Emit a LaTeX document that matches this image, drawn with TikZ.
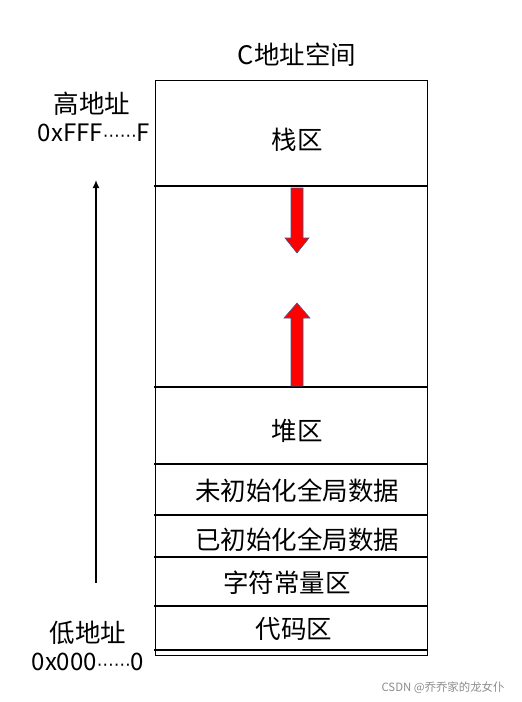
\documentclass[tikz,border=0pt]{standalone}
\usepackage{fontspec}
\setmainfont{Noto Sans CJK SC}
\newfontfamily\dotsfont{DejaVu Sans}
\usetikzlibrary{arrows.meta, calc}
\definecolor{arrowedge}{HTML}{41598B}
\newcommand{\middots}{{\dotsfont\fontsize{17}{20}\selectfont ⋯⋯}}

\begin{document}
\begin{tikzpicture}[x=1pt,y=-1pt,line cap=rect,
  lbl/.style={font=\fontsize{25.5}{28}\selectfont, inner sep=0pt},
  addr/.style={font=\fontsize{24}{28}\selectfont, inner sep=0pt},
  sep/.style={line width=1.4pt},
  bigsep/.style={line width=2pt},
  blockarrow/.style={fill=red, draw=arrowedge, line width=0.6pt, line join=miter}]
  \useasboundingbox (0,0) rectangle (522,702);

  % --- Spazio: rettangolo esterno ---
  \draw[line width=1pt] (155,80) rectangle (427,655);
  \node[lbl] (title) at (297,55) {C地址空间};

  % --- Separatori ---
  \draw[bigsep] (155,186) -- (427,186);
  \draw[sep] (155,387) -- (427,387);
  \draw[sep] (155,464) -- (427,464);
  \draw[sep] (155,515) -- (427,515);
  \draw[sep] (155,557) -- (427,557);
  \draw[sep] (155,606) -- (427,606);
  \draw[bigsep] (155,650) -- (427,650);

  % --- Etichette delle zone ---
  \node[lbl] (stack) at (297,140) {栈区};
  \node[lbl] (heap) at (297,431) {堆区};
  \node[lbl] (bss) at (297,491) {未初始化全局数据};
  \node[lbl] (data) at (297,540) {已初始化全局数据};
  \node[lbl] (rodata) at (287,583) {字符常量区};
  \node[lbl] (text) at (294,629) {代码区};

  % --- Frecce rosse: crescita stack e heap ---
  \draw[blockarrow] (291,188) -- (303,188) -- (303,238) -- (309,238)
    -- (297,253) -- (285,238) -- (291,238) -- cycle;
  \draw[blockarrow] (291,386) -- (303,386) -- (303,318) -- (310,318)
    -- (297,303) -- (284,318) -- (291,318) -- cycle;

  % --- Indirizzi a sinistra ---
  \node[lbl] (high) at (92,104) {高地址};
  \node[addr] (highval) at (94,133) {0xFFF\middots F};
  \node[lbl] (low) at (88,633) {低地址};
  \node[addr] (lowval) at (88,662) {0x000\middots 0};
  \coordinate (arrbot) at (96,582);
  \coordinate (arrtop) at (96,180);
  \draw[line width=1.4pt,-{Latex[length=8pt,width=7pt]}] (arrbot) -- (arrtop);

  % --- Firma ---
  \node[font=\fontsize{11.4}{13}\selectfont, text=black!45, inner sep=0pt] (mark) at (443,688) {CSDN @乔乔家的龙女仆};
\end{tikzpicture}
\end{document}
